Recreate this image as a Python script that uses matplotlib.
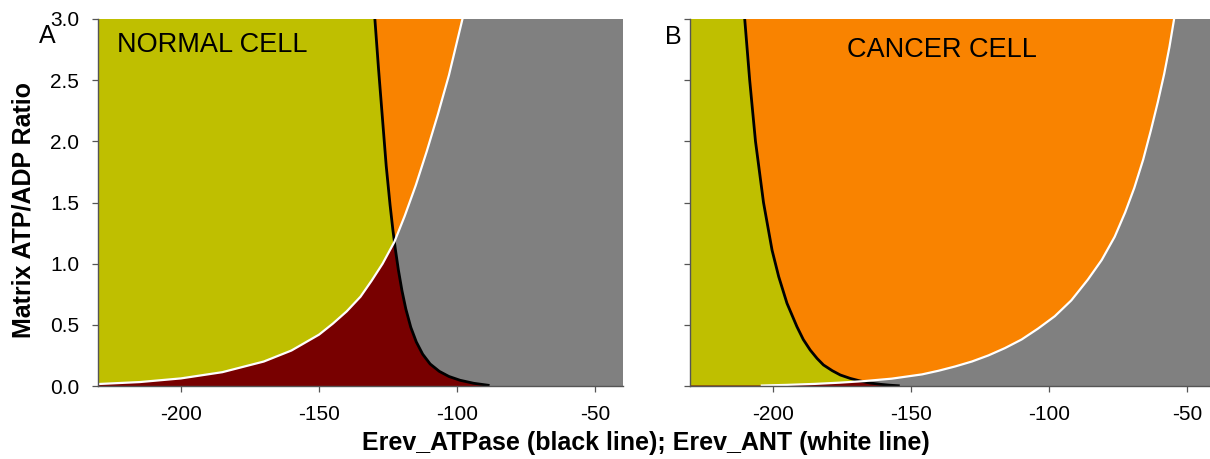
import numpy as np
import matplotlib.pyplot as plt
from matplotlib.patches import Polygon

plt.rcParams['font.family'] = ['Liberation Sans', 'DejaVu Sans']
plt.rcParams['axes.unicode_minus'] = False

# curves (x = Erev in mV, y = matrix ATP/ADP ratio)
normal_black_x = [-129.8, -128.5, -127.1, -125.7, -124.3, -123.3, -122.4, -121.3, -120.0,
                  -118.6, -116.8, -114.8, -112.5, -109.8, -106.5, -103.0, -99.0, -94.0, -88.8]
normal_black_y = [3.0, 2.6, 2.2, 1.8, 1.48, 1.28, 1.12, 0.95, 0.78,
                  0.63, 0.48, 0.36, 0.26, 0.18, 0.12, 0.078, 0.047, 0.022, 0.006]
normal_white_x = [-230, -215, -200, -185, -170, -160, -150, -145, -140, -135, -131, -127,
                  -122.7, -119, -115, -111, -107, -103, -98.1]
normal_white_y = [0.016, 0.032, 0.062, 0.113, 0.20, 0.29, 0.42, 0.51, 0.61, 0.73, 0.86, 1.00,
                  1.18, 1.39, 1.64, 1.92, 2.22, 2.54, 3.0]

cancer_black_x = [-210.2, -208.4, -206.3, -203.4, -200.3, -197.9, -194.9, -191.3, -189.0,
                  -186.5, -184.0, -181.7, -178.5, -175.6, -172.0, -168.4, -165.0, -161.2,
                  -158.0, -154.6]
cancer_black_y = [3.0, 2.5, 2.0, 1.5, 1.11, 0.894, 0.676, 0.485, 0.38,
                  0.294, 0.225, 0.172, 0.125, 0.09, 0.062, 0.041, 0.025, 0.014,
                  0.007, 0.002]
cancer_white_x = [-204, -195, -185, -176, -167, -157, -146, -140, -134, -128, -122, -116,
                  -110, -104, -98, -92, -86, -81, -76.3, -72.5, -69.2, -66, -63.2, -60.7,
                  -58.4, -56.5, -54.8]
cancer_white_y = [0.004, 0.009, 0.017, 0.027, 0.040, 0.06, 0.095, 0.125, 0.16, 0.20, 0.25, 0.31,
                  0.38, 0.47, 0.57, 0.70, 0.87, 1.03, 1.22, 1.42, 1.62, 1.85, 2.09, 2.32,
                  2.55, 2.77, 3.0]

x_ticks = [-200, -150, -100, -50]
y_ticks = [0.0, 0.5, 1.0, 1.5, 2.0, 2.5, 3.0]
x_lo, x_hi = -230, -40
y_lo, y_hi = 0.0, 3.0

OLIVE = '#bfbf00'
ORANGE = '#f98300'
GRAY = '#808080'
DARKRED = '#780000'


def draw_panel(ax, bx, by, wx, wy):
    ax.set_xlim(x_lo, x_hi)
    ax.set_ylim(y_lo, y_hi)
    ax.set_facecolor(GRAY)

    # everything above (left of) the white line
    above = np.column_stack([list(wx) + [x_lo, x_lo], list(wy) + [y_hi, wy[0]]])
    orange = Polygon(above, closed=True, fc=ORANGE, ec='none', zorder=1)
    ax.add_patch(orange)

    # everything left of the black line
    left = np.column_stack([list(bx) + [bx[-1], x_lo, x_lo], list(by) + [y_lo, y_lo, y_hi]])
    ax.add_patch(Polygon(left, closed=True, fc=DARKRED, ec='none', zorder=2))
    olive = Polygon(left, closed=True, fc=OLIVE, ec='none', zorder=3)
    ax.add_patch(olive)
    olive.set_clip_path(orange)

    ax.plot(bx, by, color='black', lw=2.0, zorder=5, solid_joinstyle='round')
    ax.plot(wx, wy, color='white', lw=1.6, zorder=5, solid_joinstyle='round')

    for s in ['top', 'right']:
        ax.spines[s].set_visible(False)
    for s in ['left', 'bottom']:
        ax.spines[s].set_color('#555555')
        ax.spines[s].set_linewidth(1.0)
        ax.spines[s].set_zorder(6)
    ax.set_xticks(x_ticks)
    ax.set_yticks(y_ticks)
    ax.tick_params(direction='out', length=4.5, width=0.9, color='#555555',
                   labelsize=15, pad=9)


fig = plt.figure(figsize=(12.1, 4.59), dpi=100)
axA = fig.add_axes([98 / 1210, 1 - 386 / 459, 525 / 1210, 367 / 459])
axB = fig.add_axes([690 / 1210, 1 - 386 / 459, 525 / 1210, 367 / 459])

draw_panel(axA, normal_black_x, normal_black_y, normal_white_x, normal_white_y)
draw_panel(axB, cancer_black_x, cancer_black_y, cancer_white_x, cancer_white_y)
axA.set_yticklabels(['%.1f' % v for v in y_ticks])
axB.tick_params(labelleft=False)

axA.text(-223, 2.79, 'NORMAL CELL', fontsize=19.5, va='center', ha='left', zorder=7)
axB.text(-139, 2.75, 'CANCER CELL', fontsize=19.5, va='center', ha='center', zorder=7)
fig.text(47 / 1210, 1 - 36 / 459, 'A', fontsize=18, ha='center', va='center')
fig.text(673 / 1210, 1 - 37 / 459, 'B', fontsize=18, ha='center', va='center')

fig.text(24 / 1210, 1 - 210 / 459, 'Matrix ATP/ADP Ratio', rotation=90, fontsize=18,
         fontweight='bold', ha='center', va='center')
fig.text(646 / 1210, 1 - 443 / 459, 'Erev_ATPase (black line); Erev_ANT (white line)',
         fontsize=18, fontweight='bold', ha='center', va='center')

fig.savefig('out.png', dpi=100)
